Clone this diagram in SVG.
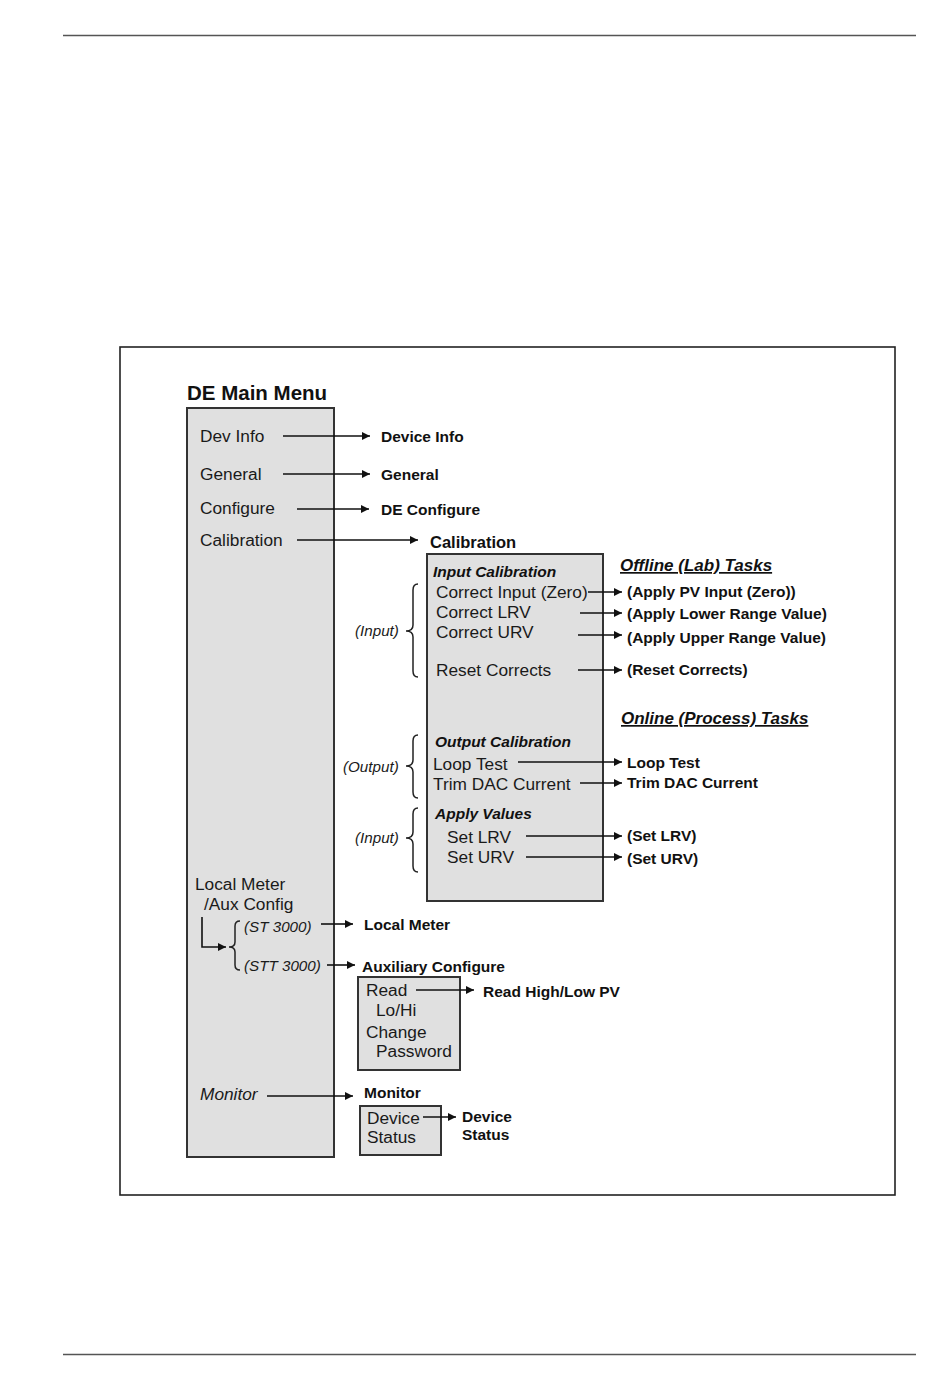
<svg xmlns="http://www.w3.org/2000/svg" width="950" height="1397" viewBox="0 0 950 1397">
<style>
.r{font-family:"Liberation Sans",Arial,sans-serif;font-size:17.3px;fill:#1a1a1a}
.i{font-family:"Liberation Sans",Arial,sans-serif;font-size:15.2px;font-style:italic;fill:#1a1a1a}
.b{font-family:"Liberation Sans",Arial,sans-serif;font-size:15.5px;font-weight:bold;fill:#111}
.bi{font-family:"Liberation Sans",Arial,sans-serif;font-size:15.5px;font-weight:bold;font-style:italic;fill:#111}
.h{font-family:"Liberation Sans",Arial,sans-serif;font-size:17px;font-weight:bold;font-style:italic;fill:#111;text-decoration:underline;text-decoration-skip-ink:none}
.box{fill:#e0e0e0;stroke:#333;stroke-width:2}
.ln{fill:none;stroke:#111;stroke-width:1.6}
.br{fill:none;stroke:#222;stroke-width:1.5}
</style>
<defs>
<marker id="ah" viewBox="0 0 10 10" refX="10" refY="5" markerWidth="10" markerHeight="8" markerUnits="userSpaceOnUse" orient="auto">
<path d="M0,0 L10,5 L0,10 z" fill="#111"/>
</marker>
</defs>
<rect width="950" height="1397" fill="#fff"/>
<line x1="63" y1="35.5" x2="916" y2="35.5" stroke="#555" stroke-width="1.5"/>
<line x1="63" y1="1354.5" x2="916" y2="1354.5" stroke="#555" stroke-width="1.5"/>
<rect x="120" y="347" width="775" height="848" fill="none" stroke="#222" stroke-width="1.6"/>

<g id="main-menu">
<text x="187" y="400" font-family="Liberation Sans,Arial,sans-serif" font-size="20.5" font-weight="bold" fill="#111">DE Main Menu</text>
<rect class="box" x="187" y="408" width="147" height="749"/>
<text class="r" x="200" y="442">Dev Info</text>
<text class="r" x="200" y="480">General</text>
<text class="r" x="200" y="514">Configure</text>
<text class="r" x="200" y="546">Calibration</text>
<text class="r" x="195" y="890">Local Meter</text>
<text class="r" x="204" y="910">/Aux Config</text>
<text class="i" x="244" y="932">(ST 3000)</text>
<text class="i" x="244" y="971">(STT 3000)</text>
<text class="r" x="200" y="1100" font-style="italic">Monitor</text>
</g>

<g id="device-info"><text class="b" x="381" y="442">Device Info</text></g>
<g id="general"><text class="b" x="381" y="480">General</text></g>
<g id="de-configure"><text class="b" x="381" y="515">DE Configure</text></g>

<g id="calibration">
<text x="430" y="548" font-family="Liberation Sans,Arial,sans-serif" font-size="16.5" font-weight="bold" fill="#111">Calibration</text>
<rect class="box" x="427" y="554" width="176" height="347"/>
<text class="bi" x="433" y="577">Input Calibration</text>
<text class="r" x="436" y="598">Correct Input (Zero)</text>
<text class="r" x="436" y="618">Correct LRV</text>
<text class="r" x="436" y="638">Correct URV</text>
<text class="r" x="436" y="676">Reset Corrects</text>
<text class="bi" x="435" y="747">Output Calibration</text>
<text class="r" x="433" y="770">Loop Test</text>
<text class="r" x="433" y="790">Trim DAC Current</text>
<text class="bi" x="435" y="819">Apply Values</text>
<text class="r" x="447" y="843">Set LRV</text>
<text class="r" x="447" y="863">Set URV</text>
<text class="i" x="355" y="636">(Input)</text>
<text class="i" x="343" y="772">(Output)</text>
<text class="i" x="355" y="843">(Input)</text>
</g>

<g id="offline-tasks">
<text class="h" x="620" y="571">Offline (Lab) Tasks</text>
<text class="b" x="627" y="597">(Apply PV Input (Zero))</text>
<text class="b" x="627" y="619">(Apply Lower Range Value)</text>
<text class="b" x="627" y="643">(Apply Upper Range Value)</text>
<text class="b" x="627" y="675">(Reset Corrects)</text>
</g>

<g id="online-tasks">
<text class="h" x="621" y="724">Online (Process) Tasks</text>
<text class="b" x="627" y="768">Loop Test</text>
<text class="b" x="627" y="788">Trim DAC Current</text>
<text class="b" x="627" y="841">(Set LRV)</text>
<text class="b" x="627" y="864">(Set URV)</text>
</g>

<g id="local-meter"><text class="b" x="364" y="930">Local Meter</text></g>

<g id="aux-configure">
<text class="b" x="362" y="972">Auxiliary Configure</text>
<rect class="box" x="358" y="977" width="102" height="93"/>
<text class="r" x="366" y="996">Read</text>
<text class="r" x="376" y="1016">Lo/Hi</text>
<text class="r" x="366" y="1038">Change</text>
<text class="r" x="376" y="1057">Password</text>
</g>
<g id="read-high-low"><text class="b" x="483" y="997">Read High/Low PV</text></g>

<g id="monitor">
<text class="b" x="364" y="1098">Monitor</text>
<rect class="box" x="360" y="1106" width="81" height="49"/>
<text class="r" x="367" y="1124">Device</text>
<text class="r" x="367" y="1143">Status</text>
</g>
<g id="device-status">
<text class="b" x="462" y="1122">Device</text>
<text class="b" x="462" y="1140">Status</text>
</g>

<g id="connectors">
<line class="ln" x1="283" y1="436" x2="370" y2="436" marker-end="url(#ah)"/>
<line class="ln" x1="283" y1="474" x2="370" y2="474" marker-end="url(#ah)"/>
<line class="ln" x1="297" y1="509" x2="369" y2="509" marker-end="url(#ah)"/>
<line class="ln" x1="297" y1="540" x2="418" y2="540" marker-end="url(#ah)"/>
<line class="ln" x1="588" y1="592" x2="622" y2="592" marker-end="url(#ah)"/>
<line class="ln" x1="580" y1="613" x2="622" y2="613" marker-end="url(#ah)"/>
<line class="ln" x1="578" y1="635" x2="622" y2="635" marker-end="url(#ah)"/>
<line class="ln" x1="578" y1="670" x2="622" y2="670" marker-end="url(#ah)"/>
<line class="ln" x1="518" y1="762" x2="622" y2="762" marker-end="url(#ah)"/>
<line class="ln" x1="580" y1="783" x2="622" y2="783" marker-end="url(#ah)"/>
<line class="ln" x1="526" y1="836" x2="622" y2="836" marker-end="url(#ah)"/>
<line class="ln" x1="526" y1="857" x2="622" y2="857" marker-end="url(#ah)"/>
<path class="ln" d="M202,917 L202,947 L226,947" marker-end="url(#ah)"/>
<line class="ln" x1="321" y1="924" x2="353" y2="924" marker-end="url(#ah)"/>
<line class="ln" x1="327" y1="965" x2="355" y2="965" marker-end="url(#ah)"/>
<line class="ln" x1="416" y1="990" x2="474" y2="990" marker-end="url(#ah)"/>
<line class="ln" x1="267" y1="1096" x2="353" y2="1096" marker-end="url(#ah)"/>
<line class="ln" x1="423" y1="1117" x2="456" y2="1117" marker-end="url(#ah)"/>
<path class="br" d="M418,584 Q413,584 413,590 L413,625 Q413,631 406,631 Q413,631 413,637 L413,671 Q413,677 418,677"/>
<path class="br" d="M418,735 Q413,735 413,741 L413,760 Q413,766 406,766 Q413,766 413,772 L413,792 Q413,798 418,798"/>
<path class="br" d="M418,808 Q413,808 413,814 L413,832 Q413,838 406,838 Q413,838 413,844 L413,866 Q413,872 418,872"/>
<path class="br" d="M240,921 Q235,921 235,926 L235,942 Q235,947 229,947 Q235,947 235,952 L235,965 Q235,970 240,970"/>
</g>
</svg>
